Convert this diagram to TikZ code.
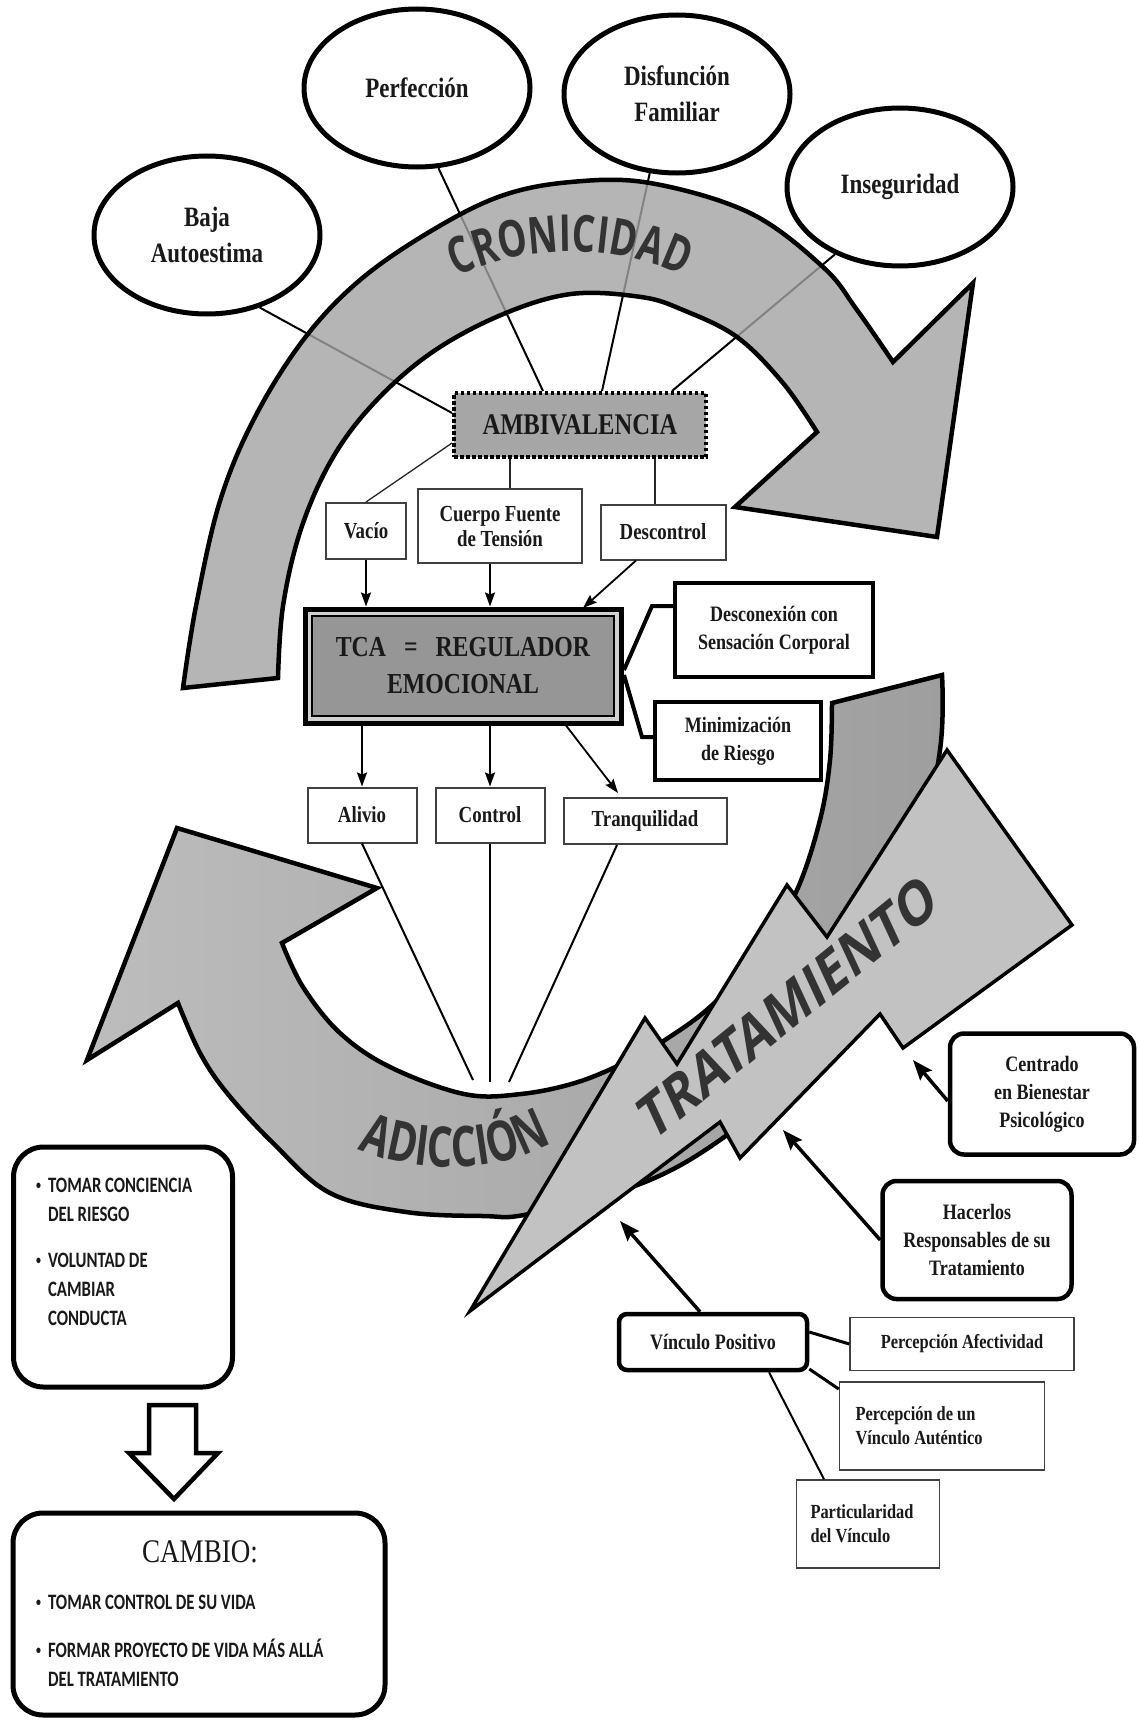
\documentclass[tikz,border=0pt]{standalone}
\usepackage{fontspec}
\setmainfont{Liberation Serif}[FakeStretch=0.82]
\newfontfamily\sansc{Carlito}[FakeStretch=0.76]
\newfontfamily\arcfont{Open Sans}[FakeStretch=0.72]
\newfontfamily\tratfont{Open Sans}[FakeStretch=0.92,FakeSlant=0.25]
\usetikzlibrary{shapes.geometric,arrows.meta,decorations.text}
\pgfdeclarelayer{under}
\pgfdeclarelayer{band}
\pgfsetlayers{under,band,main}
\definecolor{bandA}{gray}{0.64}
\definecolor{bandL}{gray}{0.74}
\definecolor{bandD}{gray}{0.62}
\definecolor{tratg}{gray}{0.76}
\definecolor{ambg}{gray}{0.65}
\definecolor{tcag}{gray}{0.59}
\definecolor{tcalight}{gray}{0.82}
\definecolor{arctext}{gray}{0.2}
\definecolor{ink}{gray}{0.1}
\definecolor{thinbox}{gray}{0.25}
\newcommand\arcfmt{\arcfont\bfseries\fontsize{51}{51}\selectfont\color{arctext}}
\newcommand\adifmt{\arcfont\bfseries\fontsize{56}{56}\selectfont\color{arctext}}
\newcommand\smallbullet{\raisebox{3pt}{\fontsize{13}{13}\selectfont\textbullet}}
\begin{document}
\begin{tikzpicture}[x=1pt,y=-1pt,
  oval/.style={ellipse, draw=black, line width=5pt, fill=white, minimum width=226pt, minimum height=158pt, inner sep=0pt, align=center, font=\bfseries\fontsize{28}{36}\selectfont, text=ink},
  smallbox/.style={rectangle, draw=thinbox, line width=2pt, fill=white, inner sep=0pt, align=center, font=\bfseries\fontsize{23}{25}\selectfont, text=ink},
  thickbox/.style={rectangle, draw=black, line width=4.5pt, fill=white, inner sep=0pt, align=center, font=\bfseries\fontsize{22}{28}\selectfont, text=ink},
  roundbox/.style={thickbox, rounded corners=14pt},
  percbox/.style={rectangle, draw=thinbox, line width=1.5pt, fill=white, inner ysep=0pt, align=flush left, font=\bfseries\fontsize{20}{24}\selectfont, text=ink},
  bigbox/.style={rectangle, rounded corners=30pt, draw=black, line width=5pt, fill=white, inner sep=0pt},
  listtext/.style={font=\sansc\bfseries\fontsize{22}{29}\selectfont, text=ink, inner sep=0pt, anchor=north west},
  wire/.style={draw=black, line width=2pt},
  thinwire/.style={draw=black!85, line width=1.3pt},
  arr/.style={draw=black, line width=1.8pt, -{Stealth[length=14pt,width=10pt,inset=2pt]}},
  bigarr/.style={draw=black, line width=3.5pt, -{Stealth[length=20pt,width=15pt,inset=3pt]}},
  bandline/.style={draw=black, line width=4.5pt, line join=miter},
]
\useasboundingbox (0,0) rectangle (1138,1726);
\begin{pgfonlayer}{under}
\fill[white] (0,0) rectangle (1138,1726);
\end{pgfonlayer}

% ---------- ellipses ----------
\node[oval] (baja) at (207,235) {Baja\\Autoestima};
\node[oval] (perf) at (417,88) {Perfección};
\node[oval] (disf) at (677,94) {Disfunción\\Familiar};
\node[oval] (inseg) at (900,187) {Inseguridad};

% ---------- ambivalencia ----------
\node[rectangle, draw=black, line width=4pt, dash pattern=on 3.5pt off 2.5pt, fill=ambg, minimum width=252pt, minimum height=64pt, inner sep=0pt, font=\bfseries\fontsize{30}{34}\selectfont, text=ink] (amb) at (580,425) {AMBIVALENCIA};
\coordinate (ambB) at (452,413);
\coordinate (ambP) at (543,391);
\coordinate (ambD) at (602,391);
\coordinate (ambI) at (672,391);
\begin{pgfonlayer}{under}
\draw[wire] (baja.-54) -- (ambB);
\draw[wire] (perf.-75) -- (ambP);
\draw[wire] (disf.-109) -- (ambD);
\draw[wire] (inseg.-134) -- (ambI);
\end{pgfonlayer}

% ---------- CRONICIDAD band ----------
\begin{pgfonlayer}{band}
\draw[bandline, fill=bandA, fill opacity=0.8]
  plot[smooth, tension=0.6] coordinates {(183,688) (196,606) (220,501) (255,417) (304,339) (360,280) (431,231) (501,196) (571,182) (650,183) (750,213) (823,267) (857,310) (893,362)}
  -- (973,283) -- (937,537) -- (735,507) -- (817,432)
  -- plot[smooth, tension=0.6] coordinates {(817,432) (783,383) (737,337) (683,310) (641,297) (571,294) (501,315) (431,353) (374,403) (332,459) (301,529) (283,606) (278,678)}
  -- cycle;
\path[decorate, decoration={text along path, text align=center, text={|\arcfmt|CRONICIDAD}}]
  (448,281) .. controls (520,242) and (620,242) .. (692,281);
\end{pgfonlayer}

% ---------- second row ----------
\node[smallbox, minimum width=80pt, minimum height=56pt] (vacio) at (366,531) {Vacío};
\node[smallbox, minimum width=164pt, minimum height=74pt] (cuerpo) at (500,526) {Cuerpo Fuente\\de Tensión};
\node[smallbox, minimum width=125pt, minimum height=55pt] (desc) at (663,532) {Descontrol};
\coordinate (ambV) at (452,443);
\coordinate (ambC) at (510,459);
\coordinate (ambE) at (655,459);
\draw[thinwire] (ambV) -- (vacio.north);
\draw[thinwire] (ambC) -- (ambC |- cuerpo.north);
\draw[thinwire] (ambE) -- (ambE |- desc.north);

% ---------- TCA ----------
\node[rectangle, draw=black, line width=5pt, fill=tcalight, minimum width=316pt, minimum height=114pt, inner sep=0pt, align=center, font=\bfseries\fontsize{29}{37}\selectfont, text=ink,
  path picture={\draw[line width=1.5pt, fill=tcag] ([xshift=7pt,yshift=-7pt]path picture bounding box.north west) rectangle ([xshift=-7pt,yshift=7pt]path picture bounding box.south east);}]
  (tca) at (463,666) {TCA\hspace{18pt}=\hspace{18pt}REGULADOR\\EMOCIONAL};
\draw[arr] (vacio.south) -- (vacio.south |- tca.north);
\draw[arr] ([xshift=-10pt]cuerpo.south) -- ([xshift=-10pt]cuerpo.south |- tca.north);
\coordinate (descS) at ([xshift=-27pt]desc.south);
\coordinate (tcaD) at (583,608);
\draw[arr] (descS) -- (tcaD);

% ---------- right boxes ----------
\node[thickbox, minimum width=198pt, minimum height=94pt] (descon) at (774,630) {Desconexión con\\Sensación Corporal};
\node[thickbox, minimum width=166pt, minimum height=78pt] (minim) at (738,741) {Minimización\\de Riesgo};
\coordinate (tcaR1) at (624,670);
\coordinate (tcaR2) at (624,675);
\coordinate (brk1) at (652,606);
\coordinate (brk2) at (642,737);
\draw[line width=4pt, line join=miter] (tcaR1) -- (brk1) -- (descon.west |- brk1);
\draw[line width=4pt, line join=miter] (tcaR2) -- (brk2) -- (minim.west |- brk2);

% ---------- third row ----------
\node[smallbox, minimum width=109pt, minimum height=55pt] (alivio) at (362,815) {Alivio};
\node[smallbox, minimum width=109pt, minimum height=55pt] (control) at (490,815) {Control};
\node[smallbox, minimum width=163pt, minimum height=46pt] (tranq) at (645,821) {Tranquilidad};
\draw[arr] (alivio.north |- tca.south) -- (alivio.north);
\draw[arr] (control.north |- tca.south) -- (control.north);
\coordinate (tcaT) at ([xshift=103pt]tca.south);
\coordinate (tranqT) at ([xshift=-27pt,yshift=4pt]tranq.north);
\draw[arr] (tcaT) -- (tranqT);
\coordinate (conv1) at (473,1080);
\coordinate (conv2) at (490,1082);
\coordinate (conv3) at (509,1082);
\draw[wire] (alivio.south) -- (conv1);
\draw[wire] (control.south) -- (conv2);
\draw[wire] ([xshift=-28pt]tranq.south) -- (conv3);

% ---------- ADICCION band ----------
\draw[bandline, left color=bandL, right color=bandD]
  (177,828) -- (377,888) -- (282,943)
  -- plot[smooth, tension=0.6] coordinates {(282,943) (303,987) (340,1033) (390,1067) (464,1094) (521,1094) (578,1082) (630,1060) (668,1038) (710,1007) (760,955) (797,890) (820,820) (830,760) (832,703)}
  -- (942,675)
  -- plot[smooth, tension=0.6] coordinates {(942,675) (940,750) (915,870) (865,980) (795,1075) (720,1140) (640,1184) (529,1214) (483,1216) (406,1212) (330,1193) (273,1143) (227,1093) (200,1053) (178,1003)}
  -- (87,1060) -- cycle;
\path[decorate, decoration={text along path, text align=center, text={|\adifmt|ADICCIÓN}}]
  (350,1145) .. controls (410,1176) and (500,1176) .. (560,1138);

% ---------- TRATAMIENTO ----------
\draw[line width=3.5pt, fill=tratg, line join=miter]
  (947,750) -- (1072,925) -- (903,1048) -- (880,1014) -- (740,1158) -- (720,1122)
  -- (470,1311) -- (645,1018) -- (677,1064) -- (787,885) -- (827,937) -- cycle;
\node[rotate=39, font=\tratfont\bfseries\fontsize{57}{57}\selectfont, text=arctext, inner sep=0pt] (tratlbl) at (784,1010) {TRATAMIENTO};

% ---------- bottom right ----------
\node[roundbox, minimum width=184pt, minimum height=121pt] (centr) at (1042,1094) {Centrado\\en Bienestar\\Psicológico};
\node[roundbox, minimum width=189pt, minimum height=118pt] (hacer) at (977,1240) {Hacerlos\\Responsables de su\\Tratamiento};
\node[roundbox, rounded corners=8pt, minimum width=188pt, minimum height=56pt] (vinc) at (713,1342) {Vínculo Positivo};
\node[percbox, minimum width=224pt, minimum height=53pt, align=center] (percaf) at (962,1344) {Percepción Afectividad};
\node[percbox, inner xsep=16pt, text width=173pt, minimum height=88pt] (percva) at (942,1426) {Percepción de un\\Vínculo Auténtico};
\node[percbox, inner xsep=14pt, text width=115pt, minimum height=88pt] (partic) at (868,1524) {Particularidad\\del Vínculo};

\coordinate (tratC) at (913,1060);
\coordinate (tratH) at (783,1130);
\coordinate (tratV) at (620,1221);
\draw[bigarr] ([yshift=-7pt]centr.west) -- (tratC);
\draw[bigarr] (hacer.west) -- (tratH);
\draw[bigarr] ([xshift=-13pt]vinc.north) -- (tratV);
\draw[wire, line width=3pt] ([yshift=10pt]vinc.east) -- (percaf.west);
\draw[wire, line width=3pt] ([yshift=-27pt]vinc.east) -- ([yshift=37pt]percva.west);
\draw[wire] ([xshift=56pt]vinc.south) -- ([xshift=-44pt]partic.north);

% ---------- left boxes ----------
\node[bigbox, minimum width=219pt, minimum height=240pt] (conc) at (123,1267) {};
\node[listtext] (conctxt) at (36,1172) {\begin{tabular}{@{}l@{\hspace{7pt}}l@{}}\smallbullet & TOMAR CONCIENCIA\\ & DEL RIESGO\\[17pt] \smallbullet & VOLUNTAD DE\\ & CAMBIAR\\ & CONDUCTA\end{tabular}};
\draw[line width=4.5pt, fill=white, line join=miter] (149,1405) -- (196,1405) -- (196,1453) -- (218,1453) -- (174,1499) -- (129,1453) -- (149,1453) -- cycle;
\node[bigbox, minimum width=372pt, minimum height=202pt] (cambio) at (199,1614) {};
\node[font=\fontsize{33}{36}\selectfont, text=ink, inner sep=0pt] (cambiot) at (200,1552) {CAMBIO:};
\node[listtext] (cambiotxt) at (36,1589) {\begin{tabular}{@{}l@{\hspace{7pt}}l@{}}\smallbullet & TOMAR CONTROL DE SU VIDA\\[19pt] \smallbullet & FORMAR PROYECTO DE VIDA MÁS ALLÁ\\ & DEL TRATAMIENTO\end{tabular}};
\end{tikzpicture}
\end{document}
